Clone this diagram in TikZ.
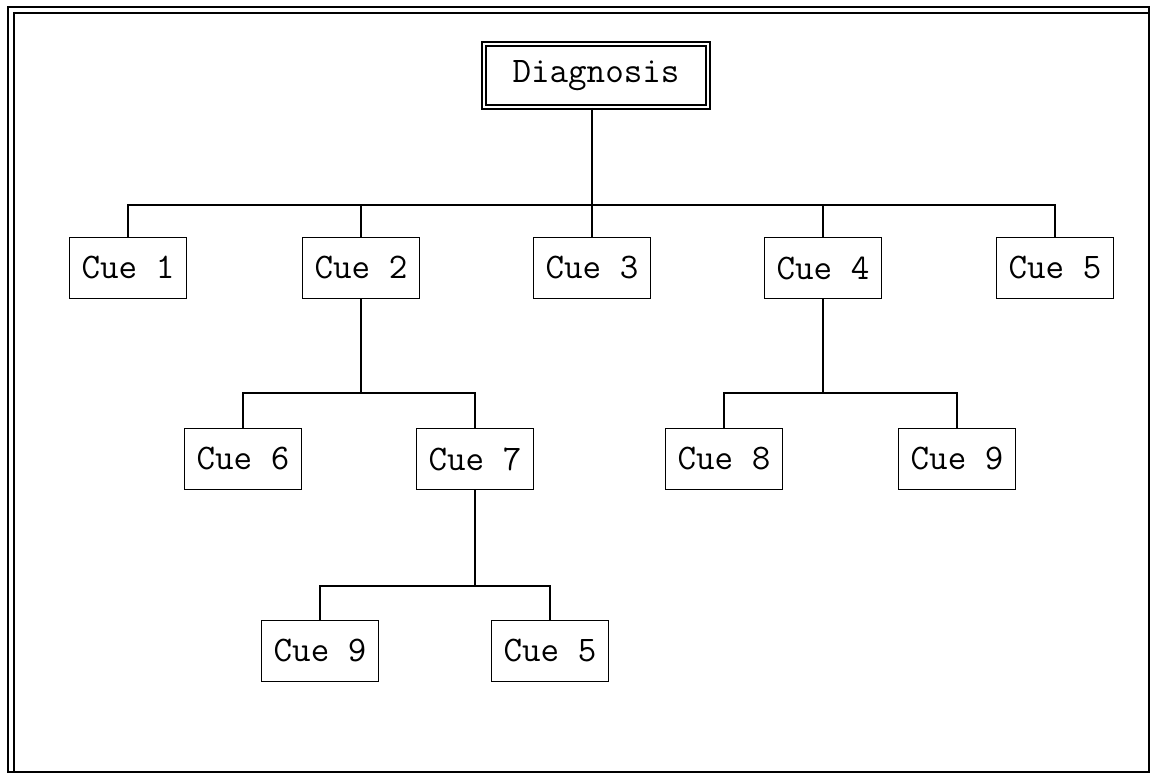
\documentclass[tikz,border=0pt]{standalone}
\usetikzlibrary{positioning}

\begin{document}
\begin{tikzpicture}[
    % GLOBAL CFG
    x=0.5pt, y=-0.5pt,
    font=\ttfamily\fontsize{18}{21}\selectfont,
    % Styles
    cue/.style={% For the cue boxes
        rectangle,
        draw,
        line width=0.9pt,
        minimum width=58.5pt,
        minimum height=30.5pt,
        inner sep=0pt,
        },
    root/.style={% For the diagnosis box
        rectangle,
        draw,
        double,
        line width=0.8pt,
        double distance=1.3pt,
        minimum width=112pt,
        minimum height=31.5pt,
        inner sep=0pt,
        },
    link/.style={% Tree connectors
        line width=0.9pt,
        },
    frame/.style={% Outer frame
        line width=1pt,
        },
    ]

    \useasboundingbox (0,0) rectangle (1153,774);

    % Draw the frame
    \draw [frame] (8,7) rectangle (1149,772);
    \draw [frame] (14,13) rectangle (1149,772);

    % Draw the root
    \node [root] (diag) at (596,75.5) {Diagnosis};

    % Draw first level named cue#
    \node [cue] (cue1) at (128,268) {Cue 1};
    \node [cue] (cue2) at (361,268) {Cue 2};
    \node [cue] (cue3) at (592,268) {Cue 3};
    \node [cue] (cue4) at (823,268) {Cue 4};
    \node [cue] (cue5) at (1055,268) {Cue 5};

    % Draw second level
    \node [cue] (cue6) at (243,459) {Cue 6};
    \node [cue] (cue7) at (475,459) {Cue 7};
    \node [cue] (cue8) at (724,459) {Cue 8};
    \node [cue] (cue9) at (957,459) {Cue 9};

    % Draw third level
    \node [cue] (cue9b) at (320,651) {Cue 9};
    \node [cue] (cue5b) at (550,651) {Cue 5};

    % Bar heights
    \coordinate (bar1) at (0,205);
    \coordinate (bar2) at (0,393);
    \coordinate (bar3) at (0,586);

% Start connecting all.
    % Root to first level
    \draw [link] (diag.south -| cue3) -- (cue3 |- bar1);
    \draw [link] (cue1.north) |- (cue5 |- bar1) -- (cue5.north);
    \foreach \n in {cue2,cue3,cue4}
        \draw [link] (\n.north) -- (\n |- bar1);

    % Cue 2 and Cue 4
    \draw [link] (cue2.south) -- (cue2 |- bar2);
    \draw [link] (cue6.north) |- (cue7 |- bar2) -- (cue7.north);
    \draw [link] (cue4.south) -- (cue4 |- bar2);
    \draw [link] (cue8.north) |- (cue9 |- bar2) -- (cue9.north);

    % Cue 7
    \draw [link] (cue7.south) -- (cue7 |- bar3);
    \draw [link] (cue9b.north) |- (cue5b |- bar3) -- (cue5b.north);

\end{tikzpicture}
\end{document}
